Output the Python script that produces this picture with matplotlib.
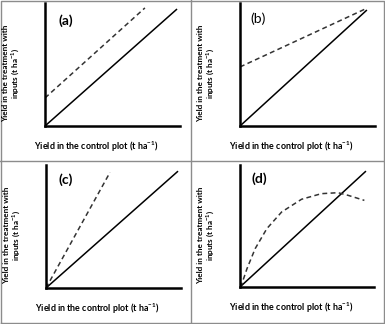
import numpy as np
import matplotlib
matplotlib.use("Agg")
import matplotlib.pyplot as plt
from matplotlib.lines import Line2D

W, H = 385, 324

# panel tags and line data (axes run 0..1 on both sides)
tags = ["(a)", "(b)", "(c)", "(d)"]
tag_bold = [True, False, True, True]

solid_x = [[0, 0.978], [0, 0.94], [0, 0.978], [0, 0.94]]
solid_y = [[0, 0.951], [0, 0.943], [0, 0.95], [0, 0.95]]

dash_a_x = [0, 0.74]
dash_a_y = [0.228, 0.96]
dash_b_x = [0, 0.935]
dash_b_y = [0.48, 0.955]
dash_c_x = [0, 0.474]
dash_c_y = [0, 0.94]
dash_d_x = [0, 0.01, 0.052, 0.113, 0.2, 0.311, 0.459, 0.607, 0.731, 0.805, 0.928]
dash_d_y = [0, 0.014, 0.15, 0.314, 0.478, 0.615, 0.719, 0.765, 0.773, 0.752, 0.71]
dash_x = [dash_a_x, dash_b_x, dash_c_x, dash_d_x]
dash_y = [dash_a_y, dash_b_y, dash_c_y, dash_d_y]

xlab = "Yield in the control plot (t ha$^{\\mathbf{-1}}$)"
ylab = "Yield in the treatment with\ninputs (t ha$^{\\mathbf{-1}}$)"

plt.rcParams['font.family'] = ['Lato', 'DejaVu Sans']
plt.rcParams['mathtext.fontset'] = 'custom'
plt.rcParams['mathtext.bf'] = 'Lato:bold'
plt.rcParams['mathtext.rm'] = 'Lato'

fig = plt.figure(figsize=(W / 100, H / 100), dpi=100)


def fx(px):
    return px / W


def fy(py):
    return 1 - py / H


# axes boxes in pixels: left, top, right, bottom
boxes = [(45, 3, 180, 126), (240, 3, 375, 126),
         (46, 165, 181, 288), (240, 165, 374, 287)]
tag_pos = [(66, 21), (258, 19), (66, 180), (259, 179)]

for i, (l, t, r, b) in enumerate(boxes):
    ax = fig.add_axes([fx(l), fy(b), (r - l) / W, (b - t) / H])
    ax.set_xlim(0, 1)
    ax.set_ylim(0, 1)
    for s in ['top', 'right']:
        ax.spines[s].set_visible(False)
    for s in ['left', 'bottom']:
        ax.spines[s].set_linewidth(1.8)
        ax.spines[s].set_color('black')
    ax.set_xticks([])
    ax.set_yticks([])
    ax.patch.set_alpha(0)
    ax.plot(solid_x[i], solid_y[i], color='black', lw=1.1, solid_capstyle='butt')
    ax.plot(dash_x[i], dash_y[i], color='#333333', lw=1.1, dashes=(3.2, 2.2))
    fig.text(fx(tag_pos[i][0]), fy(tag_pos[i][1]), tags[i], fontsize=10,
             fontweight='bold' if tag_bold[i] else 'normal', ha='center', va='center')
    fig.text(fx(l + 51), fy(b + 21), xlab, fontsize=6.4, fontweight='bold',
             ha='center', va='center')
    fig.text(fx(l - 33), fy(t + 70), ylab, fontsize=5.9, fontweight='bold',
             ha='center', va='center', rotation=90, linespacing=1.2)

# panel separators and border
grey = '#8c8c8c'
fig.add_artist(Line2D([fx(191), fx(191)], [0, 1], color=grey, lw=1))
fig.add_artist(Line2D([0, 1], [fy(161), fy(161)], color=grey, lw=1))
fig.add_artist(Line2D([0.002, 0.998, 0.998, 0.002, 0.002],
                      [0.002, 0.002, 0.998, 0.998, 0.002], color=grey, lw=1))

fig.savefig("out.png", dpi=100)
